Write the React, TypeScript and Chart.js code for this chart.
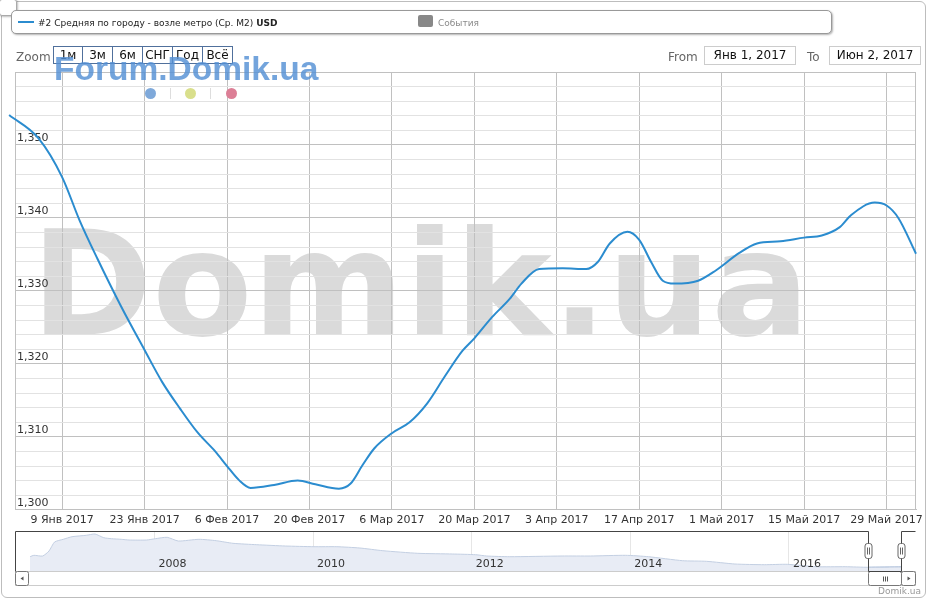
import React, { useEffect, useRef } from "react";
import { Chart, registerables } from "chart.js";

Chart.register(...registerables);

const FONT = "'DejaVu Sans', Verdana, sans-serif";
const SANS = "'Liberation Sans', Arial, sans-serif";

// ---------- main series (days since 1 Jan 2017, USD per m2) ----------
const seriesName = "#2 Средняя по городу - возле метро (Ср. M2)";
const seriesUnit = "USD";
const eventsName = "События";
const dayOffsets = [-1, 4, 8, 11, 14, 18, 22, 25, 28, 31, 34, 36, 38, 40, 44, 48, 51, 55, 57, 59, 61, 64, 67, 70, 73, 76, 78, 81, 84, 86, 89, 93, 97, 99, 101, 104, 106, 108, 110, 112, 116, 119, 123, 126, 130, 134, 137, 140, 142, 146, 148, 150, 153];
const priceValues = [1354.1, 1350.9, 1345.6, 1339.6, 1334.4, 1327.9, 1321.9, 1317.5, 1313.9, 1310.6, 1308.0, 1306.0, 1304.1, 1303.0, 1303.4, 1304.0, 1303.5, 1302.9, 1303.6, 1306.1, 1308.4, 1310.5, 1312.0, 1314.6, 1318.3, 1321.8, 1323.5, 1326.4, 1328.9, 1331.0, 1333.0, 1333.1, 1333.0, 1334.0, 1336.5, 1338.1, 1337.0, 1334.0, 1331.4, 1331.0, 1331.4, 1332.8, 1335.2, 1336.5, 1336.8, 1337.3, 1337.6, 1338.7, 1340.4, 1342.1, 1341.7, 1340.0, 1335.1];

// x axis: days since 1 Jan 2017
const xMinDay = 0;
const xMaxDay = 153;
const xTickDays = [8, 22, 36, 50, 64, 78, 92, 106, 120, 134, 148];
const xTickLabels = ["9 Янв 2017", "23 Янв 2017", "6 Фев 2017", "20 Фев 2017", "6 Мар 2017", "20 Мар 2017", "3 Апр 2017", "17 Апр 2017", "1 Май 2017", "15 Май 2017", "29 Май 2017"];

// y axis
const yMin = 1300;
const yMax = 1360;
const yMinorStep = 2;
const yMajorStep = 10;

// ---------- navigator series (fractional year, USD per m2) ----------
const navYears = [2006.43, 2006.48, 2006.59, 2006.67, 2006.74, 2006.85, 2006.96, 2007.14, 2007.25, 2007.36, 2007.46, 2007.58, 2007.68, 2007.9, 2008.01, 2008.16, 2008.3, 2008.56, 2008.78, 2008.99, 2009.29, 2009.65, 2010.01, 2010.3, 2010.59, 2010.88, 2011.32, 2011.76, 2012.05, 2012.19, 2012.48, 2013.14, 2013.5, 2013.94, 2014.23, 2014.66, 2014.96, 2015.32, 2015.69, 2015.98, 2016.34, 2016.71, 2017.0, 2017.42];
const navValues = [1865, 1935, 1900, 2150, 2600, 2735, 2865, 2935, 3000, 2815, 2765, 2735, 2700, 2700, 2765, 2835, 2650, 2735, 2665, 2535, 2465, 2400, 2365, 2365, 2300, 2165, 2035, 2000, 1965, 1900, 1865, 1900, 1900, 1935, 1865, 1665, 1635, 1500, 1465, 1485, 1365, 1365, 1335, 1350];
const navYearTicks = [2008, 2010, 2012, 2014, 2016];
const navXMin = 2006.241;
const navXMax = 2017.603;
const navYMin = 1150;
const navYMax = 3150;
const rangeStartYear = 2017.0;
const rangeEndYear = 2017.42;

// ---------- UI texts ----------
const zoomLabel = "Zoom";
const zoomButtons = ["1м", "3м", "6м", "СНГ", "Год", "Всё"];
const fromText = "From";
const toText = "To";
const fromValue = "Янв 1, 2017";
const toValue = "Июн 2, 2017";
const watermarkText = "Domik.ua";
const forumText = "Forum.Domik.ua";
const creditText = "Domik.ua";

const LINE_COLOR = "#2b8ccf";
const GRID_MAJOR = "#c0c0c0";
const GRID_MINOR = "#e2e2e2";

function Txt(props: any) {
  const { children, left, baseline, size, color = "#333", weight = "normal", family = FONT, asc = 0.928, desc = 0.236, style = {} } = props;
  const lh = Math.round(size * 1.5);
  const top = baseline - ((lh - (asc + desc) * size) / 2 + asc * size);
  return (
    <div style={{ position: "absolute", left, top, fontSize: size, lineHeight: lh + "px", fontFamily: family, color, fontWeight: weight, whiteSpace: "nowrap", ...style }}>
      {children}
    </div>
  );
}

function MainChart() {
  const ref = useRef<HTMLCanvasElement>(null);
  useEffect(() => {
    const canvas = ref.current!;
    const pts = dayOffsets.map((d, i) => ({ x: d, y: priceValues[i] }));
    const borderPlugin = {
      id: "plotBorder",
      beforeDatasetsDraw(chart: any) {
        const { ctx, chartArea: a } = chart;
        ctx.save();
        ctx.strokeStyle = GRID_MAJOR;
        ctx.lineWidth = 1;
        const x = Math.round(a.right) - 0.5;
        ctx.beginPath();
        ctx.moveTo(x, a.top);
        ctx.lineTo(x, a.bottom);
        ctx.stroke();
        ctx.restore();
      },
    };
    const chart = new Chart(canvas, {
      type: "line",
      data: {
        datasets: [
          {
            data: pts,
            borderColor: LINE_COLOR,
            borderWidth: 2,
            pointRadius: 0,
            fill: false,
            cubicInterpolationMode: "monotone",
            clip: false as any,
          },
        ],
      },
      options: {
        animation: false,
        responsive: false,
        events: [],
        layout: { padding: { left: 11, right: 15, top: 72, bottom: 69 } },
        plugins: { legend: { display: false }, tooltip: { enabled: false } },
        scales: {
          x: {
            type: "linear",
            min: xMinDay,
            max: xMaxDay,
            afterBuildTicks: (s: any) => {
              s.ticks = xTickDays.map((v) => ({ value: v }));
            },
            ticks: {
              autoSkip: false,
              maxRotation: 0,
              padding: 4,
              color: "#333",
              font: { family: FONT, size: 11 },
              callback: (v: any) => {
                const i = xTickDays.indexOf(Number(v));
                return i >= 0 ? xTickLabels[i] : "";
              },
            },
            grid: { color: GRID_MAJOR, drawTicks: false },
            border: { color: GRID_MAJOR },
          },
          y: {
            min: yMin,
            max: yMax,
            ticks: {
              stepSize: yMinorStep,
              autoSkip: false,
              mirror: true,
              padding: 2,
              labelOffset: -7,
              color: "#333",
              font: { family: FONT, size: 11 },
              callback: (v: any) => {
                const n = Number(v);
                return n % yMajorStep === 0 && n < yMax ? n.toLocaleString("en-US") : "";
              },
            },
            grid: {
              drawTicks: false,
              color: (c: any) => (c.tick && c.tick.value % yMajorStep === 0 ? GRID_MAJOR : GRID_MINOR),
            },
            border: { color: GRID_MAJOR },
          },
        },
      },
      plugins: [borderPlugin],
    } as any);
    return () => chart.destroy();
  }, []);
  return <canvas ref={ref} width={931} height={600} style={{ position: "absolute", left: 0, top: 0, width: 931, height: 600 }} />;
}

function rr(ctx: any, x: number, y: number, w: number, h: number, r: number) {
  ctx.beginPath();
  ctx.moveTo(x + r, y);
  ctx.lineTo(x + w - r, y);
  ctx.arcTo(x + w, y, x + w, y + r, r);
  ctx.lineTo(x + w, y + h - r);
  ctx.arcTo(x + w, y + h, x + w - r, y + h, r);
  ctx.lineTo(x + r, y + h);
  ctx.arcTo(x, y + h, x, y + h - r, r);
  ctx.lineTo(x, y + r);
  ctx.arcTo(x, y, x + r, y, r);
  ctx.closePath();
}

function Navigator() {
  const ref = useRef<HTMLCanvasElement>(null);
  useEffect(() => {
    const canvas = ref.current!;
    const all = navYears.map((x, i) => ({ x, y: navValues[i] }));
    const sel = all.filter((p) => p.x >= rangeStartYear && p.x <= rangeEndYear);
    const navPlugin = {
      id: "navDecor",
      afterDraw(chart: any) {
        const { ctx, chartArea: a, scales } = chart;
        const xs = scales.x;
        ctx.save();
        ctx.font = `11px ${FONT}`;
        ctx.fillStyle = "#333";
        ctx.textAlign = "left";
        ctx.textBaseline = "alphabetic";
        navYearTicks.forEach((y) => ctx.fillText(String(y), xs.getPixelForValue(y) + 4, a.bottom - 4));
        const x1 = Math.round(xs.getPixelForValue(rangeStartYear)) + 0.5;
        const x2 = Math.round(xs.getPixelForValue(rangeEndYear)) + 0.5;
        const top = Math.round(a.top) + 0.5;
        const bot = Math.round(a.bottom) + 0.5;
        const L = Math.round(a.left) + 0.5;
        const R = Math.round(a.right) - 0.5;
        ctx.lineWidth = 1;
        // scrollbar track
        ctx.fillStyle = "#ffffff";
        ctx.strokeStyle = "#cccccc";
        ctx.fillRect(L, bot, R - L, 14);
        ctx.strokeRect(L, bot, R - L, 14);
        // left button
        rr(ctx, L, bot, 13, 14, 2);
        ctx.fillStyle = "#fff";
        ctx.fill();
        ctx.strokeStyle = "#777";
        ctx.stroke();
        ctx.fillStyle = "#555";
        ctx.beginPath();
        ctx.moveTo(L + 5, bot + 7);
        ctx.lineTo(L + 8, bot + 5);
        ctx.lineTo(L + 8, bot + 9);
        ctx.closePath();
        ctx.fill();
        // thumb
        const rb = R - 14;
        rr(ctx, x1, bot, rb - x1, 14, 2);
        ctx.fillStyle = "#fff";
        ctx.fill();
        ctx.strokeStyle = "#777";
        ctx.stroke();
        const cx = Math.round((x1 + rb) / 2) + 0.5;
        ctx.strokeStyle = "#555";
        ctx.beginPath();
        [-2, 0, 2].forEach((d) => {
          ctx.moveTo(cx + d, bot + 5);
          ctx.lineTo(cx + d, bot + 10);
        });
        ctx.stroke();
        // right button
        rr(ctx, rb, bot, R - rb, 14, 2);
        ctx.fillStyle = "#fff";
        ctx.fill();
        ctx.strokeStyle = "#777";
        ctx.stroke();
        ctx.fillStyle = "#555";
        ctx.beginPath();
        ctx.moveTo(rb + 9, bot + 7);
        ctx.lineTo(rb + 6, bot + 5);
        ctx.lineTo(rb + 6, bot + 9);
        ctx.closePath();
        ctx.fill();
        // outline
        ctx.strokeStyle = "#444";
        ctx.beginPath();
        ctx.moveTo(L, bot);
        ctx.lineTo(L, top);
        ctx.lineTo(x1, top);
        ctx.lineTo(x1, bot);
        ctx.lineTo(x2, bot);
        ctx.lineTo(x2, top);
        ctx.lineTo(R, top);
        ctx.stroke();
        // handles
        [x1, x2].forEach((hx) => {
          rr(ctx, hx - 3.5, top + 12, 7, 15, 2.5);
          ctx.fillStyle = "#fff";
          ctx.fill();
          ctx.strokeStyle = "#666";
          ctx.stroke();
          ctx.beginPath();
          ctx.moveTo(hx - 1, top + 16);
          ctx.lineTo(hx - 1, top + 23);
          ctx.moveTo(hx + 1, top + 16);
          ctx.lineTo(hx + 1, top + 23);
          ctx.stroke();
        });
        ctx.restore();
      },
    };
    const chart = new Chart(canvas, {
      type: "line",
      data: {
        datasets: [
          {
            data: all,
            borderColor: "#c3cfe2",
            borderWidth: 1,
            backgroundColor: "#e8ecf5",
            fill: "start",
            pointRadius: 0,
            tension: 0.2,
          },
          {
            data: sel,
            borderColor: "#7f9cc8",
            borderWidth: 1,
            backgroundColor: "rgba(102,133,194,0.55)",
            fill: "start",
            pointRadius: 0,
            tension: 0.2,
          },
        ],
      },
      options: {
        animation: false,
        responsive: false,
        events: [],
        layout: { padding: { left: 1, right: 1, top: 2, bottom: 16 } },
        plugins: { legend: { display: false }, tooltip: { enabled: false } },
        scales: {
          x: {
            type: "linear",
            min: navXMin,
            max: navXMax,
            afterBuildTicks: (s: any) => {
              s.ticks = navYearTicks.map((v) => ({ value: v }));
            },
            ticks: { display: false },
            grid: { color: "#e6e6e6", drawTicks: false },
            border: { display: false },
          },
          y: { min: navYMin, max: navYMax, display: false },
        },
      },
      plugins: [navPlugin],
    } as any);
    return () => chart.destroy();
  }, []);
  return <canvas ref={ref} width={903} height={58} style={{ position: "absolute", left: 14, top: 529, width: 903, height: 58 }} />;
}

export default function App() {
  const btnLeft = 53;
  return (
    <div style={{ position: "absolute", left: 0, top: 0, width: 931, height: 600, overflow: "hidden", background: "#fff", fontFamily: FONT }}>
      {/* outer frame */}
      <div style={{ position: "absolute", left: 1, top: 1, width: 923, height: 595, border: "1px solid #bdbdbd", borderRadius: 6 }} />
      {/* big watermark */}
      <Txt left={31} baseline={335} size={146} color="#dadada" weight="bold">{watermarkText}</Txt>
      <MainChart />
      <Navigator />
      {/* top-left small box */}
      <div style={{ position: "absolute", left: -1, top: -1, width: 16, height: 15, border: "1px solid #aaa", borderRadius: 3, background: "#fff", boxShadow: "1px 1px 2px rgba(0,0,0,0.25)" }} />
      {/* legend */}
      <div style={{ position: "absolute", left: 11, top: 10, width: 819, height: 22, border: "1px solid #999", borderRadius: 5, background: "#fff", boxShadow: "1px 1px 2px rgba(0,0,0,0.3)" }} />
      <div style={{ position: "absolute", left: 18, top: 21, width: 16, height: 2, background: LINE_COLOR }} />
      <Txt left={38} baseline={26.5} size={9} color="#222">
        {seriesName} <b>{seriesUnit}</b>
      </Txt>
      <div style={{ position: "absolute", left: 418, top: 15, width: 15, height: 12, background: "#888", borderRadius: 2 }} />
      <Txt left={438} baseline={26} size={9} color="#8a8a8a">{eventsName}</Txt>
      {/* zoom row */}
      <Txt left={16} baseline={61} size={12} color="#666">{zoomLabel}</Txt>
      {zoomButtons.map((b, i) => (
        <div
          key={b}
          style={{
            position: "absolute",
            left: btnLeft + i * 30,
            top: 46,
            width: 30,
            height: 18,
            boxSizing: "border-box",
            border: "1px solid #50709c",
            borderLeft: i === 0 ? "1px solid #50709c" : "none",
            fontFamily: FONT,
            fontSize: 12,
            lineHeight: "16px",
            textAlign: "center",
            color: "#111",
          }}
        >
          {b}
        </div>
      ))}
      <Txt left={54} baseline={81} size={33.5} family={SANS} asc={0.905} desc={0.212} weight="bold" color="rgba(84,144,212,0.82)">{forumText}</Txt>
      {/* dots */}
      <div style={{ position: "absolute", left: 144.5, top: 87.5, width: 11, height: 11, borderRadius: 6, background: "#7fa9da" }} />
      <div style={{ position: "absolute", left: 170, top: 88, width: 1, height: 11, background: "#dddddd" }} />
      <div style={{ position: "absolute", left: 184.5, top: 87.5, width: 11, height: 11, borderRadius: 6, background: "#d9df8c" }} />
      <div style={{ position: "absolute", left: 210, top: 88, width: 1, height: 11, background: "#dddddd" }} />
      <div style={{ position: "absolute", left: 225.5, top: 87.5, width: 11, height: 11, borderRadius: 6, background: "#dc7f96" }} />
      {/* from / to */}
      <Txt left={668} baseline={61} size={12} color="#666">{fromText}</Txt>
      <div style={{ position: "absolute", left: 704, top: 46, width: 92, height: 19, boxSizing: "border-box", border: "1px solid #cccccc", fontFamily: FONT, fontSize: 12, lineHeight: "17px", textAlign: "center", color: "#111" }}>{fromValue}</div>
      <Txt left={807} baseline={61} size={12} color="#666">{toText}</Txt>
      <div style={{ position: "absolute", left: 829, top: 46, width: 92, height: 19, boxSizing: "border-box", border: "1px solid #cccccc", fontFamily: FONT, fontSize: 12, lineHeight: "17px", textAlign: "center", color: "#111" }}>{toValue}</div>
      {/* credit */}
      <div style={{ position: "absolute", right: 931 - 921, top: 585, fontFamily: FONT, fontSize: 9, lineHeight: "12px", color: "#999" }}>{creditText}</div>
    </div>
  );
}
